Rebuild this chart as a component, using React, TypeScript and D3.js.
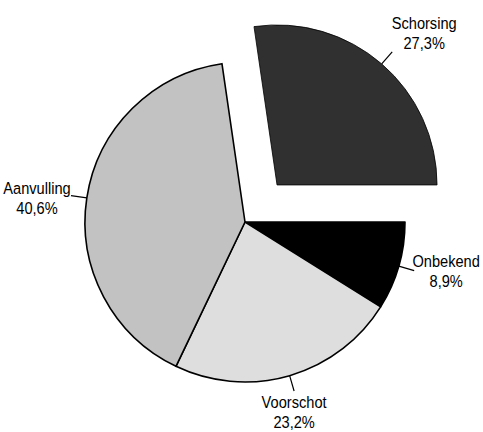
import React from "react";
import * as d3 from "d3";

const categories = ["Schorsing", "Onbekend", "Voorschot", "Aanvulling"];
const values = [27.3, 8.9, 23.2, 40.6];
const valueLabels = ["27,3%", "8,9%", "23,2%", "40,6%"];
const fills = ["#303030", "#000000", "#dedede", "#c2c2c2"];
const exploded = [true, false, false, false];

const W = 483;
const H = 432;
const cx = 245;
const cy = 222;
const R = 160;
const explodeDist = 49;
const leaderLen = 16;
const FONT = "'Liberation Sans', Arial, sans-serif";
const NARROW = 0.86;

// label text block offset relative to leader end [dx of block center, dy of first baseline]
const labelOffsets: Record<string, [number, number]> = {
  Schorsing: [32, -23],
  Onbekend: [32, -4],
  Voorschot: [0, 17],
  Aanvulling: [-34, -2],
};

export default function App() {
  const startAngle = Math.PI / 2 - (values[0] / d3.sum(values)) * 2 * Math.PI;
  const pie = d3
    .pie<number>()
    .sort(null)
    .value((d) => d)
    .startAngle(startAngle)
    .endAngle(startAngle + 2 * Math.PI);
  const arcs = pie(values);
  const arcGen = d3.arc<d3.PieArcDatum<number>>().innerRadius(0).outerRadius(R);

  return (
    <svg
      width={W}
      height={H}
      style={{ position: "absolute", left: 0, top: 0, background: "#fff" }}
      fontFamily={FONT}
    >
      {arcs.map((a, i) => {
        const mid = (a.startAngle + a.endAngle) / 2;
        const ox = exploded[i] ? Math.sin(mid) * explodeDist : 0;
        const oy = exploded[i] ? -Math.cos(mid) * explodeDist : 0;
        const x0 = cx + ox + Math.sin(mid) * R;
        const y0 = cy + oy - Math.cos(mid) * R;
        const x1 = cx + ox + Math.sin(mid) * (R + leaderLen);
        const y1 = cy + oy - Math.cos(mid) * (R + leaderLen);
        const off = labelOffsets[categories[i]];
        const tx = x1 + off[0];
        const ty = y1 + off[1];
        return (
          <g key={categories[i]}>
            <path
              d={arcGen(a) || ""}
              transform={`translate(${cx + ox},${cy + oy})`}
              fill={fills[i]}
              stroke="#000"
              strokeWidth={exploded[i] ? 0.8 : 1.6}
              strokeLinejoin="round"
            />
            <line x1={x0} y1={y0} x2={x1} y2={y1} stroke="#000" strokeWidth={1.2} />
            <g transform={`translate(${tx},${ty}) scale(${NARROW},1)`}>
              <text x={0} y={0} textAnchor="middle" fontSize={17} fill="#000">
                {categories[i]}
              </text>
              <text x={0} y={20} textAnchor="middle" fontSize={17} fill="#000">
                {valueLabels[i]}
              </text>
            </g>
          </g>
        );
      })}
    </svg>
  );
}
